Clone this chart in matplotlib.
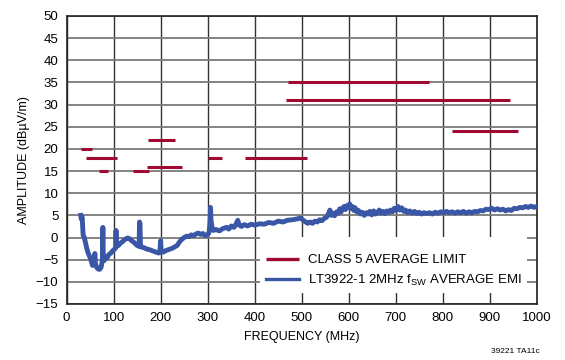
import matplotlib.pyplot as plt
from matplotlib.patches import Rectangle

plt.rcParams['font.family'] = ['Liberation Sans', 'DejaVu Sans']
plt.rcParams['mathtext.fontset'] = 'custom'
plt.rcParams['mathtext.rm'] = 'Liberation Sans'
plt.rcParams['mathtext.it'] = 'Liberation Sans'

# CLASS 5 average limit segments (MHz start, MHz stop, dBuV/m)
limit_start = [30, 41, 76, 68, 142, 174, 171, 300, 380, 470, 467, 820]
limit_stop = [54, 88, 108, 87, 175, 230, 245, 330, 512, 770, 944, 960]
limit_level = [20, 18, 18, 15, 15, 22, 16, 18, 18, 35, 31, 24]

# measured average EMI
emi_freq = [30, 31, 33, 35, 37, 40, 43, 46, 49, 52, 55, 58, 60, 61, 64, 67, 70, 73, 75, 76,
            77, 78, 80, 83, 86, 90, 94, 98, 102, 104, 105, 106, 110, 114, 118, 122, 126, 130,
            134, 138, 142, 146, 150, 154, 155, 156, 157, 160, 165, 170, 175, 180, 185, 190,
            195, 198, 200, 201, 205, 210, 215, 220, 225, 230, 235, 240, 245, 250, 255, 260,
            265, 270, 275, 280, 285, 290, 295, 300, 303, 305, 306, 307, 309, 312, 318, 325,
            332, 340, 345, 350, 356, 360, 364, 367, 372, 378, 385, 392, 400, 410, 420, 430,
            440, 450, 460, 470, 480, 490,
            497, 502, 507, 513, 518, 523, 528, 533, 538, 543, 548, 553, 557, 560, 563, 566,
            570, 574, 578, 581, 584, 587, 590, 593, 596, 599, 602, 605, 608, 611, 614, 617,
            621, 625, 629, 633, 637, 641, 645, 649, 653, 657, 661, 665, 669, 673, 677, 681,
            685, 689, 693, 697, 701, 705, 709, 713, 717, 721, 725, 730, 735, 740, 745, 750,
            755, 760, 766, 772, 778, 784, 790, 796, 802, 808, 814, 820, 826, 832, 838, 844,
            850, 856, 862, 868, 874, 880, 886, 892, 898, 904, 910, 916, 922, 928, 934, 940,
            946, 952, 958, 964, 970, 976, 982, 988, 994, 1000]
emi_amp = [5.0, 4.2, 4.6, 0.5, 0.2, -1.2, -2.5, -3.6, -4.3, -5.2, -6.3, -6.0, -3.6, -5.8, -6.8,
           -7.1, -7.2, -6.8, -5.8, -5.0, 2.3, -4.8, -5.2, -4.3, -4.6, -3.8, -3.5, -3.0, -2.6,
           -2.4, 1.6, -2.0, -1.8, -1.3, -1.0, -0.6, -0.3, -0.1, -0.3, -0.7, -1.0, -1.4, -1.8,
           -2.0, 3.5, 3.2, -2.0, -2.2, -2.3, -2.6, -2.7, -2.9, -3.1, -3.3, -3.5, -3.4, -0.7,
           -3.2, -3.3, -3.0, -2.8, -2.6, -2.4, -2.1, -1.8, -1.0, -0.4, 0.0, 0.3, 0.2, 0.6, 0.4,
           0.8, 1.0, 0.7, 0.9, 0.4, 0.6, 1.2, 3.5, 6.8, 4.0, 2.4, 1.6, 1.8, 1.5, 2.0, 2.3, 1.9,
           2.6, 2.3, 3.0, 3.9, 2.8, 2.5, 2.9, 2.6, 3.0, 2.8, 3.1, 3.0, 3.4, 3.2, 3.7, 3.5, 3.9,
           4.0, 4.2,
           4.4, 4.0, 3.6, 3.2, 3.5, 3.2, 3.7, 3.5, 4.0, 3.8, 4.3, 4.6, 5.4, 6.2, 5.0, 5.5,
           4.9, 5.8, 5.5, 6.5, 5.8, 6.6, 7.0, 6.3, 7.2, 6.8, 7.6, 6.5, 7.0, 6.1, 6.7, 5.8,
           6.1, 5.3, 5.7, 5.0, 5.6, 5.3, 5.9, 5.1, 6.0, 5.3, 5.6, 6.2, 5.5, 5.9, 5.4, 6.0,
           5.7, 6.2, 5.8, 6.6, 6.1, 7.0, 6.2, 6.7, 5.9, 6.2, 5.6, 6.0, 5.5, 5.9, 5.4, 5.7,
           5.3, 5.6, 5.4, 5.6, 5.3, 5.7, 5.5, 5.8, 5.6, 5.9, 5.6, 5.8, 5.5, 5.8, 5.6, 5.9,
           5.5, 5.8, 5.6, 5.9, 5.8, 6.1, 6.0, 6.4, 6.3, 6.6, 6.2, 6.5, 6.2, 6.4, 6.0, 6.3,
           6.1, 6.6, 6.5, 6.8, 6.7, 7.0, 6.8, 7.1, 6.8, 7.0]

red = '#A00A32'
blue = '#3A56A6'

fig = plt.figure(figsize=(5.65, 3.6), dpi=100)
ax = fig.add_axes([0.118, 0.1556, 0.832, 0.80])

ax.set_xlim(0, 1000)
ax.set_ylim(-15, 50)
ax.set_xticks(range(0, 1001, 100))
ax.set_yticks(range(-15, 51, 5))
ax.set_yticklabels([str(t).replace('-', '\u2212') for t in range(-15, 51, 5)])
ax.tick_params(length=0, labelsize=9.5, pad=6)

ax.set_axisbelow(True)
ax.grid(axis='x', color='#333333', lw=1.0)
ax.grid(axis='y', color='#7a7a7a', lw=1.3)
for s in ax.spines.values():
    s.set_color('#222222')
    s.set_linewidth(1.2)

# white box behind the legend hides the grid
ax.add_patch(Rectangle((0.411, 0.038), 0.568, 0.195, transform=ax.transAxes,
                       facecolor='white', edgecolor='none', zorder=1))

ax.hlines(limit_level, limit_start, limit_stop, colors=red, lw=2.2, zorder=3,
          label='CLASS 5 AVERAGE LIMIT')
ax.plot(emi_freq, emi_amp, color=blue, lw=3.5, zorder=3, solid_joinstyle='round',
        label='LT3922-1 2MHz f$_{\\mathrm{SW}}$ AVERAGE EMI')

leg = ax.legend(loc='center left', bbox_to_anchor=(0.424, 0.115), frameon=False, fontsize=9.5,
                borderpad=0, handlelength=2.5, handletextpad=0.7, labelspacing=0.45,
                borderaxespad=0)
for h in leg.legend_handles:
    h.set_linewidth(2.4)

ax.set_xlabel('FREQUENCY (MHz)', fontsize=9, labelpad=5)
ax.set_ylabel('AMPLITUDE (dB\u00b5V/m)', fontsize=9, labelpad=4)

fig.text(0.955, 0.015, '39221 TA11c', fontsize=6, ha='right', va='bottom')

fig.savefig('out.png', dpi=100)
